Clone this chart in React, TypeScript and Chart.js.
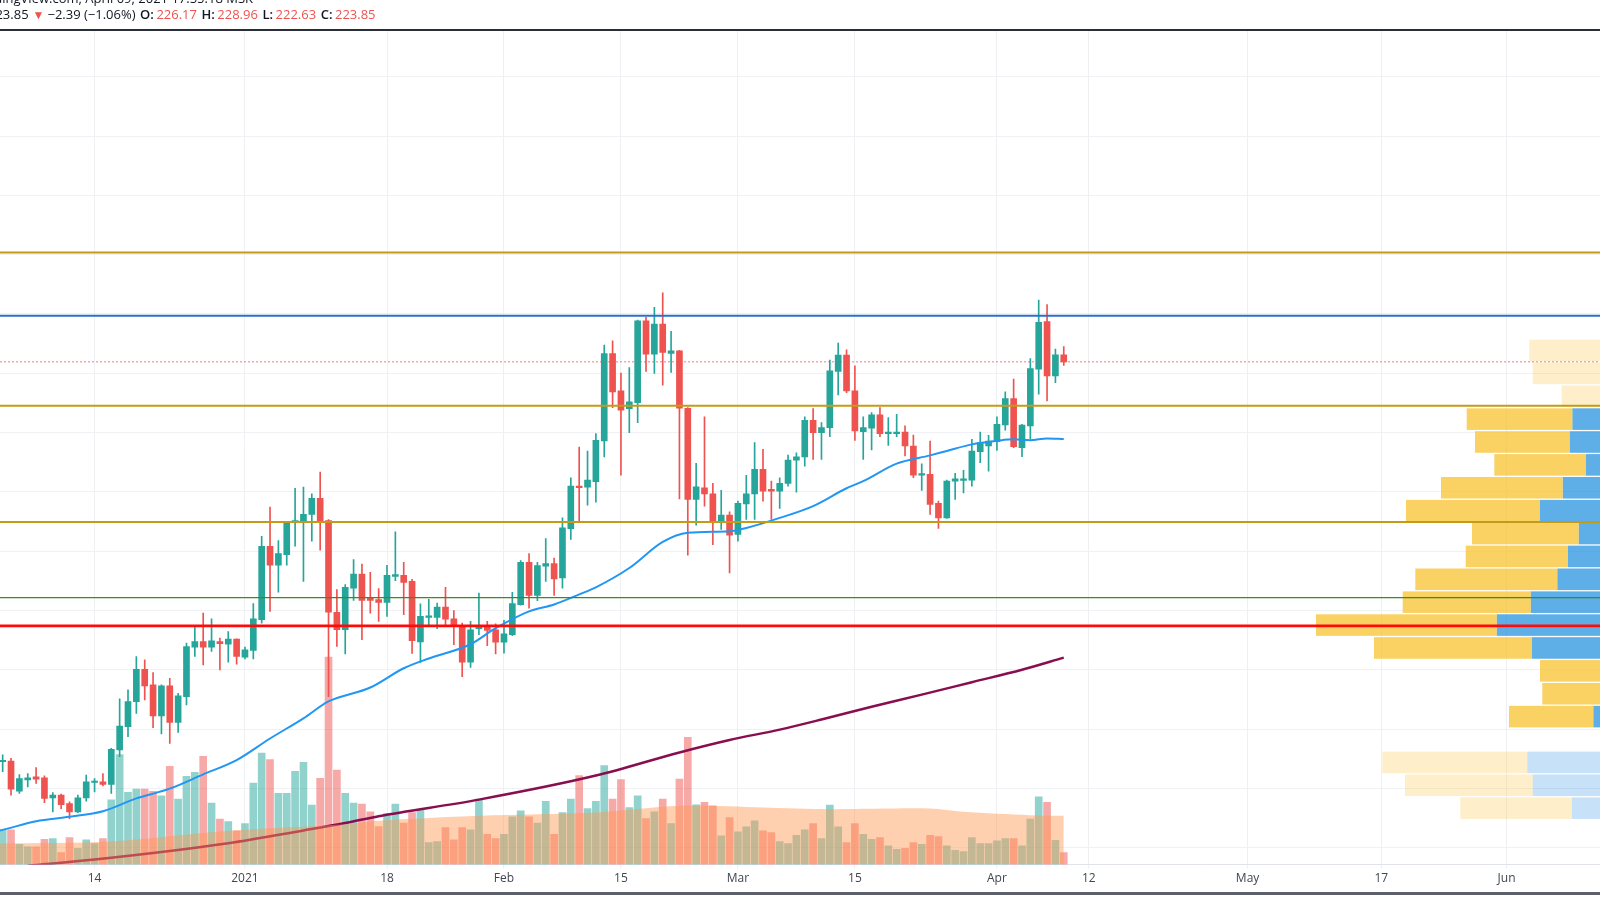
import React, { useEffect, useRef } from 'react';
import { Chart, registerables } from 'chart.js';

Chart.register(...registerables);

// ---- time axis: day numbers counted from 2021-01-01 (= 0) ----
const FIRST_DAY = -29; // 2020-12-03, first daily bar
const X_MIN = -29.32;
const X_MAX = 162.18;
const TICK_DAYS = [-18, 0, 17, 31, 45, 59, 73, 90, 101, 120, 136, 151];
const TICK_LABELS = ['14', '2021', '18', 'Feb', '15', 'Mar', '15', 'Apr', '12', 'May', '17', 'Jun'];

// ---- price axis ----
const Y_MIN = 54.28;
const Y_MAX = 335.42;
const PRICE_GRID = [60, 80, 100, 120, 140, 160, 180, 200, 220, 240, 260, 280, 300, 320];

// ---- daily OHLC ----
const OPEN = [
  88.96, 89.2, 79.06, 82.88, 83.89, 83.55, 76.79, 77.7, 74.87, 72.06, 76.79, 81.96, 82.2, 81.29, 92.92, 100.8,
  109.25, 120.17, 114.89, 104.41, 114.56, 102.25, 110.94, 127.6, 129.53, 127.6, 129.53, 128.62, 130.31, 124.22,
  126.49, 136.87, 161.65, 155.23, 158.84, 169.66, 170.1, 172.37, 177.77, 170.34, 139.34, 133.49, 147.55, 152.28,
  144.17, 143.63, 142.72, 151.51, 151.84, 149.82, 129.36, 137.64, 137.64, 141.13, 137.21, 134.94, 122.53, 133.83,
  134.6, 133.49, 129.29, 131.8, 141.94, 156.24, 145.08, 154.89, 155.8, 150.93, 167.56, 181.93, 181.59, 183.39,
  197.15, 226.66, 214.05, 208.07, 210.09, 237.71, 226.46, 236.6, 226.66, 227.57, 208.2, 177.44, 181.36, 179.33,
  170.1, 172.13, 165.6, 175.95, 179.33, 187.58, 180.82, 180.24, 182.85, 190.72, 191.74, 204.14, 199.95, 201.64,
  220.57, 226.12, 214.05, 200.29, 201.44, 205.94, 199.61, 199.61, 200.19, 195.46, 185.65, 185.89, 176.08, 171.22,
  183.62, 183.86, 183.96, 193.53, 195.46, 196.91, 202.55, 211.45, 194.88, 202.22, 221.38, 237.38, 219.12, 226.17,
];
const HIGH = [
  91.33, 90.08, 84.67, 85.01, 87.04, 84.2, 78.59, 78.04, 75.44, 77.7, 84.47, 83.32, 85.01, 93.46, 110.16, 113.2,
  124.46, 123.35, 119.05, 114.89, 117.12, 112.05, 128.96, 134.6, 139.1, 137.21, 130.65, 132.91, 130.44, 127.6,
  142.28, 165.03, 174.83, 163.58, 169.7, 181.15, 181.59, 179.33, 186.67, 170.67, 147.01, 148.7, 157.15, 155.66,
  152.86, 147.35, 155.23, 166.48, 156.24, 150.49, 142.21, 143.73, 142.48, 147.79, 139.91, 135.72, 136.29, 145.86,
  136.29, 135.52, 136.63, 146.1, 156.81, 159.18, 156.24, 164.25, 157.69, 171.22, 184.74, 195.12, 193.76, 199.68,
  229.5, 230.95, 220.03, 221.93, 237.9, 238.83, 242.21, 247.08, 234.1, 227.7, 208.4, 189.61, 205.26, 182.85,
  180.48, 173.24, 176.86, 185.55, 196.57, 194.34, 183.62, 184.74, 192.41, 193.19, 205.26, 208.07, 203.33, 224.43,
  230.18, 227.91, 222.5, 205.26, 206.71, 208.4, 205.02, 206.17, 202.22, 199.17, 189.47, 197.15, 176.86, 183.96,
  186.23, 187.24, 197.72, 200.19, 199.07, 205.26, 213.71, 218.0, 202.79, 224.97, 244.71, 243.12, 228.15, 228.96,
];
const LOW = [
  85.58, 77.71, 78.25, 80.51, 81.63, 75.2, 72.06, 73.18, 69.8, 71.82, 75.68, 78.82, 80.85, 78.25, 90.65, 97.42,
  105.29, 109.82, 100.46, 98.33, 95.15, 98.87, 108.13, 124.46, 121.65, 126.15, 119.96, 122.53, 121.86, 123.68,
  123.68, 135.72, 139.67, 146.2, 155.23, 161.65, 149.82, 163.34, 160.3, 110.94, 127.84, 125.37, 143.39, 130.11,
  139.1, 136.29, 137.98, 150.05, 138.56, 125.47, 122.43, 134.94, 133.83, 134.6, 128.42, 117.7, 120.74, 131.8,
  128.08, 125.37, 125.58, 131.46, 141.8, 140.79, 143.29, 149.82, 145.08, 147.55, 163.91, 170.1, 175.51, 176.52,
  191.74, 208.4, 185.65, 199.95, 203.33, 220.57, 219.9, 215.98, 220.24, 177.64, 158.61, 168.75, 175.17, 162.22,
  167.29, 152.62, 163.34, 170.67, 170.67, 176.86, 170.67, 174.39, 181.93, 179.9, 188.69, 190.96, 190.96, 198.6,
  212.7, 213.47, 197.38, 190.96, 194.1, 198.6, 195.69, 198.6, 192.07, 184.74, 180.48, 172.37, 167.63, 171.0,
  177.44, 179.67, 181.93, 189.81, 187.0, 194.0, 200.76, 194.88, 191.84, 197.72, 212.93, 210.67, 216.85, 222.63,
];
const CLOSE = [
  89.3, 79.73, 83.32, 83.55, 83.11, 76.56, 77.7, 74.53, 72.06, 76.79, 82.2, 82.44, 81.29, 93.12, 101.03, 109.25,
  120.17, 114.56, 104.41, 114.56, 102.25, 111.17, 127.84, 129.53, 127.6, 129.77, 128.75, 130.31, 124.46, 126.72,
  137.21, 161.65, 155.23, 159.18, 169.53, 170.34, 172.37, 177.77, 170.1, 139.44, 133.49, 147.79, 152.28, 143.39,
  143.39, 142.72, 151.84, 152.08, 149.48, 129.77, 137.98, 137.98, 141.13, 137.07, 134.6, 122.53, 133.49, 134.94,
  133.25, 129.29, 132.13, 142.28, 156.24, 145.08, 155.12, 155.8, 150.59, 167.83, 181.93, 181.43, 183.96, 197.38,
  226.66, 213.71, 207.52, 210.33, 237.71, 226.46, 236.6, 227.0, 227.57, 208.2, 177.44, 181.7, 179.33, 170.1,
  172.13, 165.37, 176.08, 179.33, 187.58, 180.24, 180.24, 182.85, 190.72, 191.84, 204.14, 199.95, 201.64, 220.81,
  226.12, 214.05, 200.53, 201.64, 205.94, 199.61, 199.95, 200.19, 195.46, 185.65, 186.09, 175.75, 171.22, 183.62,
  184.4, 184.4, 193.76, 196.57, 197.15, 202.79, 211.45, 195.22, 202.55, 221.59, 237.14, 219.12, 226.24, 223.85,
];
const VOLUME = [
  694, 694, 406, 354, 354, 506, 520, 240, 540, 326, 494, 420, 520, 1294, 2194, 1440,
  1506, 1506, 1460, 1374, 1960, 1306, 1760, 1840, 2160, 1226, 906, 860, 674, 820,
  1626, 2226, 2094, 1420, 1420, 1860, 2040, 1186, 1720, 4140, 1886, 1420, 1226, 1206,
  1054, 760, 1020, 1206, 826, 1040, 1094, 440, 460, 740, 494, 740, 694, 1306,
  606, 520, 606, 954, 1074, 954, 826, 1260, 606, 1040, 1306, 1774, 1120, 1260,
  1974, 1306, 1694, 1140, 1374, 920, 1054, 1306, 820, 1706, 2540, 1194, 1240, 1174,
  574, 940, 654, 754, 874, 674, 640, 460, 420, 586, 694, 820, 520, 1186,
  754, 440, 820, 606, 506, 540, 374, 306, 326, 440, 406, 586, 560, 374,
  286, 260, 540, 420, 420, 474, 520, 520, 374, 906, 1354, 1240, 486, 240,
];
const VOL_MAX = 16632;

// ---- indicators ----
const VOL_MA_DAYS = [-30, -16, -2, 12, 16, 28, 42, 52, 62, 70, 82, 86, 94, 98];
const VOL_MA = [420, 460, 674, 806, 874, 974, 1040, 1174, 1140, 1106, 1120, 1054, 986, 974];

const MA_FAST_DAYS = [-30, -29, -25, -21, -17, -13, -9, -5, -1, 3, 7, 10, 15, 19, 22, 27, 30, 34, 37, 40, 42, 46, 50, 53, 58, 60, 64, 68, 72, 74, 78, 82, 84, 87, 90, 92, 94, 96, 98];
const MA_FAST = [65.4, 66.0, 68.9, 70.4, 72.3, 76.6, 79.9, 84.7, 89.5, 96.8, 103.6, 109.3, 114.0, 120.5, 123.8, 128.6, 134.0, 139.7, 142.0, 145.4, 147.8, 154.3, 163.1, 166.2, 166.7, 167.8, 171.2, 175.2, 181.2, 183.6, 189.5, 192.3, 193.8, 196.0, 197.2, 197.7, 197.4, 198.0, 197.8];

const MA_SLOW_DAYS = [-26, -18, -2, 7, 12, 16, 28, 42, 52, 58, 64, 69, 75, 81, 87, 93, 98];
const MA_SLOW = [53.9, 56.0, 61.5, 65.8, 68.3, 70.6, 76.2, 84.3, 92.1, 96.3, 99.8, 103.2, 107.5, 111.6, 115.8, 120.0, 124.1];

// ---- drawn price levels ----
const GOLD_LEVELS = [260.7, 209.0, 169.8];
const BLUE_LEVEL = 239.4;
const GREEN_LEVEL = 144.3;
const RED_LEVEL = 134.8;

// ---- volume profile (rows from the lowest price upwards) ----
const PROFILE_LOW = 69.46;
const PROFILE_STEP = 7.718;
const PROFILE_UP = [530, 923, 977, 80, 317, 200, 200, 933, 1283, 943, 677, 570, 463, 850, 623, 390, 550, 527, 100, 150, 150];
const PROFILE_DOWN = [1117, 1277, 1450, 100, 843, 627, 650, 1577, 1807, 1280, 1420, 1023, 1067, 1340, 1217, 917, 950, 1056, 533, 773, 807];
const VALUE_AREA_LOW = 100.33;
const VALUE_AREA_HIGH = 208.38;

const TEAL = '#26a69a';
const RED = '#ef5350';

const profilePlugin = {
  id: 'volumeProfile',
  beforeDatasetsDraw(chart: any) {
    const { ctx, chartArea, scales } = chart;
    const y = scales.y;
    const xp = scales.xp;
    ctx.save();
    ctx.beginPath();
    ctx.rect(chartArea.left, chartArea.top, chartArea.right - chartArea.left, chartArea.bottom - chartArea.top);
    ctx.clip();
    const x0 = xp.getPixelForValue(0);
    PROFILE_UP.forEach((up: number, k: number) => {
      const lo = PROFILE_LOW + k * PROFILE_STEP;
      const hi = lo + PROFILE_STEP;
      const top = y.getPixelForValue(hi) + 0.65;
      const bottom = y.getPixelForValue(lo) - 0.65;
      const inVA = lo >= VALUE_AREA_LOW - 0.01 && hi <= VALUE_AREA_HIGH + 0.01;
      const xUp = xp.getPixelForValue(up);
      const xDown = xp.getPixelForValue(up + PROFILE_DOWN[k]);
      ctx.fillStyle = inVA ? 'rgba(25,139,222,0.7)' : 'rgba(30,136,229,0.25)';
      ctx.fillRect(xUp, top, x0 - xUp, bottom - top);
      ctx.fillStyle = inVA ? 'rgba(248,193,40,0.72)' : 'rgba(251,192,45,0.25)';
      ctx.fillRect(xDown, top, xUp - xDown, bottom - top);
    });
    ctx.restore();
  },
};

export default function App() {
  const canvasRef = useRef<HTMLCanvasElement | null>(null);

  useEffect(() => {
    const canvas = canvasRef.current;
    if (!canvas) return;
    const days = OPEN.map((_, i) => FIRST_DAY + i);
    const candleColors = OPEN.map((o, i) => (CLOSE[i] >= o ? TEAL : RED));
    const volColors = OPEN.map((o, i) => (CLOSE[i] >= o ? 'rgba(38,166,154,0.5)' : 'rgba(239,83,80,0.5)'));
    const lastClose = CLOSE[CLOSE.length - 1];

    const levelLine = (value: number, color: string, width: number, dash: number[] = []) => ({
      type: 'line' as const,
      data: [
        { x: X_MIN, y: value },
        { x: X_MAX, y: value },
      ],
      borderColor: color,
      borderWidth: width,
      borderDash: dash,
      pointRadius: 0,
      yAxisID: 'y',
      order: 0,
    });

    const chart = new Chart(canvas, {
      type: 'bar',
      data: {
        datasets: [
          ...GOLD_LEVELS.map((v) => levelLine(v, '#c49b16', 2)),
          levelLine(BLUE_LEVEL, '#2b70c9', 2),
          levelLine(GREEN_LEVEL, '#3f8a1f', 1.3),
          levelLine(RED_LEVEL, '#ff0a0a', 2.6),
          levelLine(lastClose, 'rgba(239,83,80,0.75)', 1, [2, 2]),
          {
            type: 'line',
            data: VOL_MA_DAYS.map((d, i) => ({ x: d, y: VOL_MA[i] })),
            yAxisID: 'yv',
            fill: 'origin',
            backgroundColor: 'rgba(255,150,80,0.45)',
            borderWidth: 0,
            borderColor: 'rgba(0,0,0,0)',
            pointRadius: 0,
            tension: 0.3,
            order: 1,
          },
          {
            type: 'line',
            data: MA_FAST_DAYS.map((d, i) => ({ x: d, y: MA_FAST[i] })),
            yAxisID: 'y',
            borderColor: '#2196f3',
            borderWidth: 2,
            pointRadius: 0,
            cubicInterpolationMode: 'monotone',
            order: 2,
          },
          {
            type: 'line',
            data: MA_SLOW_DAYS.map((d, i) => ({ x: d, y: MA_SLOW[i] })),
            yAxisID: 'y',
            borderColor: '#880e4f',
            borderWidth: 2.5,
            pointRadius: 0,
            cubicInterpolationMode: 'monotone',
            order: 2,
          },
          {
            type: 'bar',
            data: days.map((d, i) => ({ x: d, y: [OPEN[i], CLOSE[i]] })),
            yAxisID: 'y',
            backgroundColor: candleColors,
            barThickness: 6,
            minBarLength: 1.5,
            grouped: false,
            order: 3,
          },
          {
            type: 'bar',
            data: days.map((d, i) => ({ x: d, y: [LOW[i], HIGH[i]] })),
            yAxisID: 'y',
            backgroundColor: candleColors,
            barThickness: 1,
            grouped: false,
            order: 4,
          },
          {
            type: 'bar',
            data: days.map((d, i) => ({ x: d, y: VOLUME[i] })),
            yAxisID: 'yv',
            backgroundColor: volColors,
            barThickness: 7,
            grouped: false,
            order: 5,
          },
        ] as any,
      },
      options: {
        animation: false,
        responsive: false,
        maintainAspectRatio: false,
        events: [],
        layout: { padding: { top: 31, left: 0, right: 0, bottom: 11 } },
        plugins: { legend: { display: false }, tooltip: { enabled: false } },
        scales: {
          x: {
            type: 'linear',
            position: 'bottom',
            min: X_MIN,
            max: X_MAX,
            offset: false,
            afterBuildTicks: (scale: any) => {
              scale.ticks = TICK_DAYS.map((value) => ({ value }));
            },
            grid: { color: '#eef0f4', offset: false, drawTicks: true, tickLength: 4 },
            border: { display: true, color: '#e0e3eb' },
            ticks: {
              autoSkip: false,
              maxRotation: 0,
              padding: 3,
              color: '#434651',
              font: { family: '"Open Sans", sans-serif', size: 12 },
              callback: (value: any) => {
                const i = TICK_DAYS.indexOf(Number(value));
                return i >= 0 ? TICK_LABELS[i] : '';
              },
            },
          },
          y: {
            type: 'linear',
            position: 'right',
            min: Y_MIN,
            max: Y_MAX,
            afterBuildTicks: (scale: any) => {
              scale.ticks = PRICE_GRID.map((value) => ({ value }));
            },
            ticks: { display: false },
            grid: { color: '#f0f1f4', drawTicks: false },
            border: { display: false },
          },
          yv: { type: 'linear', display: false, min: 0, max: VOL_MAX },
          xp: {
            type: 'linear',
            axis: 'x',
            display: false,
            reverse: true,
            offset: false,
            beginAtZero: false,
            min: 250,
            max: 16250,
            grid: { offset: false },
          },
        } as any,
      },
      plugins: [profilePlugin],
    });
    return () => chart.destroy();
  }, []);

  const red = { color: RED };
  const label = { color: '#131722', fontWeight: 600, marginLeft: 4.5 } as React.CSSProperties;
  const value = { color: RED, marginLeft: 2.5 } as React.CSSProperties;

  return (
    <div
      style={{
        position: 'absolute',
        left: 0,
        top: 0,
        width: 1600,
        height: 900,
        background: '#ffffff',
        overflow: 'hidden',
        fontFamily: '"Open Sans", sans-serif',
      }}
    >
      <canvas ref={canvasRef} width={1600} height={900} style={{ position: 'absolute', left: 0, top: 0, width: 1600, height: 900 }} />
      <div
        style={{
          position: 'absolute',
          right: 1347,
          top: -10,
          fontSize: 13,
          lineHeight: '16px',
          color: '#131722',
          whiteSpace: 'nowrap',
        }}
      >
        TradingView.com, April 09, 2021 17:55:18 MSK
      </div>
      <div
        style={{
          position: 'absolute',
          left: -12,
          top: 6.3,
          fontSize: 13,
          lineHeight: '16px',
          color: '#131722',
          whiteSpace: 'nowrap',
        }}
      >
        <span>223.85</span>
        <span style={{ ...red, marginLeft: 4, fontSize: 12 }}>▼</span>
        <span style={{ marginLeft: 3 }}>−2.39 (−1.06%)</span>
        <span style={label}>O:</span>
        <span style={value}>226.17</span>
        <span style={label}>H:</span>
        <span style={value}>228.96</span>
        <span style={label}>L:</span>
        <span style={value}>222.63</span>
        <span style={label}>C:</span>
        <span style={value}>223.85</span>
      </div>
      <div style={{ position: 'absolute', left: 0, top: 29, width: 1600, height: 2, background: '#2a2e39' }} />
      <div style={{ position: 'absolute', left: 0, top: 892, width: 1600, height: 2.5, background: '#5d606b' }} />
    </div>
  );
}
